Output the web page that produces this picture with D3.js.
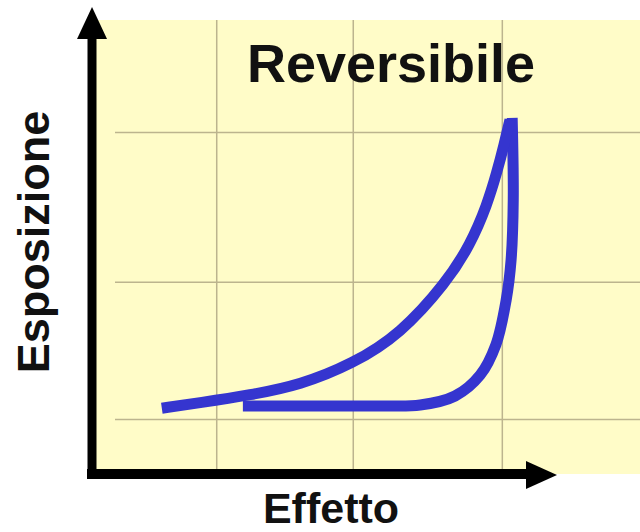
<!DOCTYPE html>
<html>
<head>
<meta charset="utf-8">
<script src="https://cdn.jsdelivr.net/npm/d3@7"></script>
<style>
  body { margin: 0; background: #fff; }
  svg { display: block; }
  .lbl { font-family: "Liberation Sans", Arial, sans-serif; font-weight: bold; fill: #111; }
  .grid line { stroke: #bcb48e; stroke-width: 1.5; }
  .grid path { display: none; }
</style>
</head>
<body>
<div id="chart"></div>
<script>
// values (arbitrary units, 0..10 on both axes)
var title = "Reversibile",
    xLabel = "Effetto",
    yLabel = "Esposizione";

var gridX = [2.21, 4.72, 7.46],
    gridY = [1.19, 4.22, 7.53];

// rising branch (exposure goes up)
var upX = [1.21, 1.91, 2.83, 3.75, 4.72, 5.59, 6.45, 6.88, 7.19, 7.37, 7.50, 7.61],
    upY = [1.43, 1.55, 1.72, 1.94, 2.41, 3.06, 4.22, 5.04, 5.92, 6.64, 7.24, 7.80];

// returning branch (exposure goes down)
var downX = [7.65, 7.67, 7.63, 7.54, 7.35, 7.06, 6.60, 5.96, 5.22, 3.75, 2.70],
    downY = [7.84, 6.03, 4.70, 3.82, 2.83, 2.16, 1.70, 1.50, 1.48, 1.48, 1.48];

function init() {
    var W = 640, H = 532;
    var left = 96, right = 640, top = 20, bottom = 473;

    var x = d3.scaleLinear().domain([0, 10]).range([left, right]),
        y = d3.scaleLinear().domain([0, 10]).range([bottom, top]);

    var svg = d3.select("#chart").append("svg")
        .attr("width", W)
        .attr("height", H);

    // pale yellow plot background
    svg.append("rect")
        .attr("x", 92).attr("y", top)
        .attr("width", W - 92).attr("height", bottom + 1 - top)
        .attr("fill", "#fffcc8");

    // grid
    svg.append("g")
        .attr("class", "grid")
        .attr("transform", "translate(0," + bottom + ")")
        .call(d3.axisBottom(x).tickValues(gridX).tickSize(-(bottom - top)).tickFormat(""));

    svg.append("g")
        .attr("class", "grid")
        .attr("transform", "translate(115,0)")
        .call(d3.axisLeft(y).tickValues(gridY).tickSize(-(right - 115)).tickFormat(""));

    // hysteresis loop
    var upLine = d3.line()
        .x(function(d) { return x(d[0]); })
        .y(function(d) { return y(d[1]); })
        .curve(d3.curveBasis);

    var downLine = d3.line()
        .x(function(d) { return x(d[0]); })
        .y(function(d) { return y(d[1]); })
        .curve(d3.curveCatmullRom.alpha(0.5));

    var loop = svg.append("g")
        .attr("fill", "none")
        .attr("stroke", "#3535cf")
        .attr("stroke-width", 11)
        .attr("stroke-linejoin", "round");

    loop.append("path").attr("d", downLine(d3.zip(downX, downY)));
    loop.append("path").attr("d", upLine(d3.zip(upX, upY)));

    // axes with arrows
    svg.append("line")
        .attr("x1", 92).attr("y1", 479)
        .attr("x2", 92).attr("y2", 36)
        .attr("stroke", "#000").attr("stroke-width", 9);
    svg.append("path")
        .attr("d", "M92,7 L77,39 L107,39 Z")
        .attr("fill", "#000");

    svg.append("line")
        .attr("x1", 87).attr("y1", 474)
        .attr("x2", 529).attr("y2", 474)
        .attr("stroke", "#000").attr("stroke-width", 10);
    svg.append("path")
        .attr("d", "M557,475 L526,461 L526,489 Z")
        .attr("fill", "#000");

    // labels
    svg.append("text")
        .attr("class", "lbl")
        .attr("x", 391).attr("y", 82)
        .attr("text-anchor", "middle")
        .style("font-size", "54px")
        .text(title);

    svg.append("text")
        .attr("class", "lbl")
        .attr("x", 331).attr("y", 523)
        .attr("text-anchor", "middle")
        .style("font-size", "43px")
        .text(xLabel);

    svg.append("text")
        .attr("class", "lbl")
        .attr("transform", "translate(49,242) rotate(-90)")
        .attr("text-anchor", "middle")
        .style("font-size", "45px")
        .text(yLabel);
}
init();
</script>
</body>
</html>
